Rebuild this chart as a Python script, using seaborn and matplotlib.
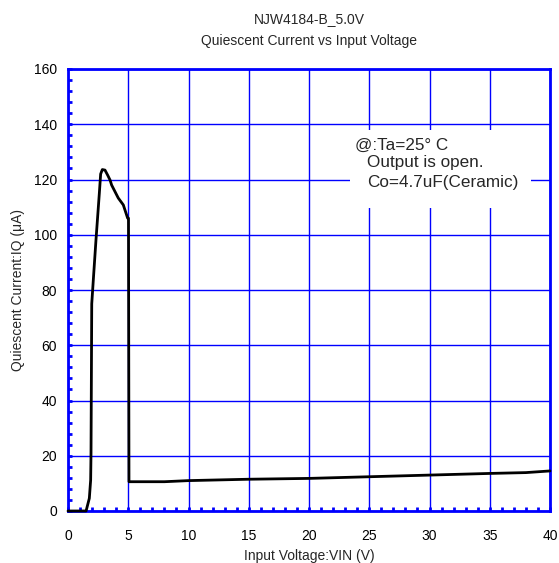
import matplotlib
matplotlib.use("Agg")
import matplotlib.pyplot as plt
from matplotlib.ticker import MultipleLocator
from matplotlib.patches import Rectangle
import seaborn as sns
import pandas as pd

vin = [0.0, 1.5, 1.77, 1.88, 1.91, 1.97, 2.1, 2.32, 2.6, 2.71, 2.85, 3.07, 3.3, 3.49, 3.62,
       4.17, 4.59, 4.95, 5.02, 5.06, 8.0, 10.0, 15.0, 20.0, 25.0, 30.0, 35.0, 38.0, 40.0]
iq = [0.0, 0.0, 4.6, 11.2, 21.0, 75.0, 83.6, 98.0, 115.0, 122.0, 123.6, 123.4, 121.5, 119.8, 118.0,
      113.3, 110.8, 106.0, 106.0, 10.6, 10.6, 11.0, 11.5, 11.8, 12.4, 13.0, 13.6, 13.9, 14.5]

title = "NJW4184-B_5.0V\nQuiescent Current vs Input Voltage"
xlabel = "Input Voltage:VIN (V)"
ylabel = "Quiescent Current:IQ (μA)"
notes = ["@:Ta=25° C", "Output is open.", "Co=4.7uF(Ceramic)"]

sns.set_style("white")
plt.rcParams["font.family"] = ["Liberation Sans", "DejaVu Sans"]
plt.rcParams["font.size"] = 10

df = pd.DataFrame({"vin": vin, "iq": iq})
fig = plt.figure(figsize=(5.59, 5.63), dpi=100)
W, H = 559, 563
ax = fig.add_axes([68 / W, (H - 511) / H, (550 - 68) / W, (511 - 69) / H])

blue = "#0000FF"
ax.set_xlim(0, 40)
ax.set_ylim(0, 160)
ax.xaxis.set_major_locator(MultipleLocator(5))
ax.yaxis.set_major_locator(MultipleLocator(20))
ax.xaxis.set_minor_locator(MultipleLocator(1))
ax.yaxis.set_minor_locator(MultipleLocator(4))
ax.grid(True, which="major", color=blue, linewidth=1.0, zorder=0)
ax.set_axisbelow(True)

ax.add_patch(Rectangle((23.4, 109.7), 15.0, 28.3, facecolor="white", edgecolor="none", zorder=1))

sns.lineplot(data=df, x="vin", y="iq", ax=ax, color="black", linewidth=2.0, sort=False,
             estimator=None, zorder=6)
for ln in ax.lines:
    ln.set_clip_on(False)

for s in ax.spines.values():
    s.set_color(blue)
    s.set_linewidth(2.0)
    s.set_zorder(4)
ax.tick_params(which="both", direction="in", color=blue, width=2.0, top=False, right=False,
               bottom=True, left=True, labelsize=10, labelcolor="black")
ax.tick_params(which="major", length=3)
ax.tick_params(which="minor", length=3)
ax.tick_params(axis="x", which="major", pad=13)
ax.tick_params(axis="y", which="major", pad=8)

ax.set_xlabel(xlabel, fontsize=10, labelpad=4)
ax.set_ylabel(ylabel, fontsize=10, labelpad=6)
ax.set_title(title, fontsize=10, pad=17, linespacing=1.75)

ax.text(23.8, 132.5, notes[0], fontsize=12.3, va="center", ha="left", zorder=5)
ax.text(24.8, 126.0, notes[1], fontsize=12.3, va="center", ha="left", zorder=5)
ax.text(24.8, 118.8, notes[2], fontsize=12.3, va="center", ha="left", zorder=5)

fig.savefig("out.png", dpi=100)
